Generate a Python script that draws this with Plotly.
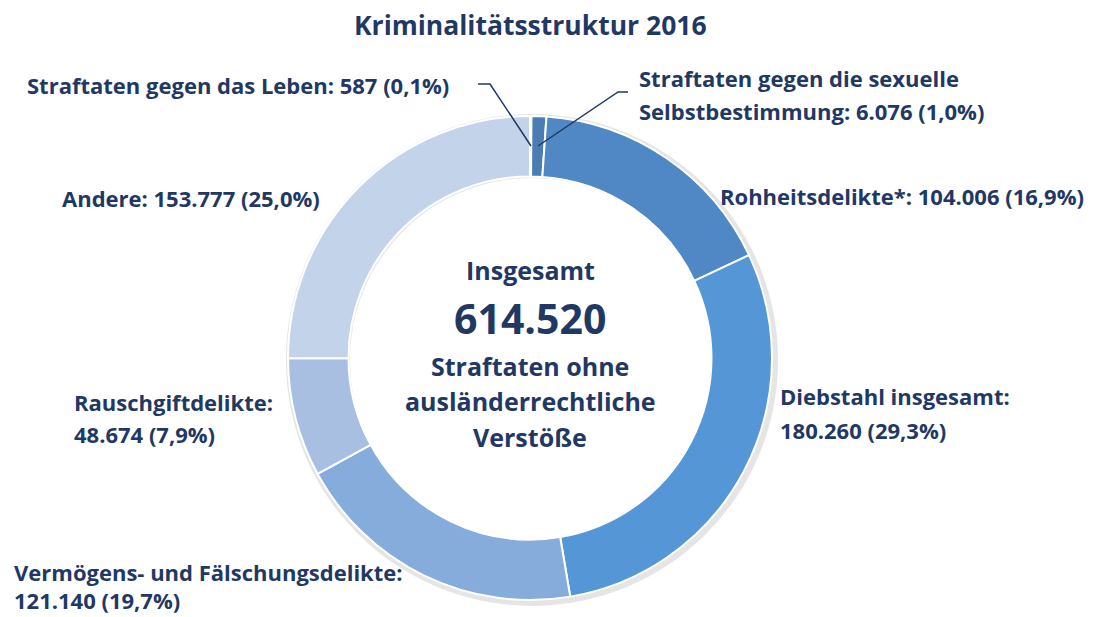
import plotly.graph_objects as go

W, H = 1102, 617

categories = [
    "Straftaten gegen das Leben",
    "Straftaten gegen die sexuelle Selbstbestimmung",
    "Rohheitsdelikte*",
    "Diebstahl insgesamt",
    "Vermögens- und Fälschungsdelikte",
    "Rauschgiftdelikte",
    "Andere",
]
values = [587, 6076, 104006, 180260, 121140, 48674, 153777]
colors = ["#5a8cc4", "#4a7db4", "#4f88c5", "#5597d6", "#86acdc", "#a8bfe1", "#c3d4ea"]

total = sum(values)
NAVY = "#1f3864"
FONT = "Open Sans"


def fmt_num(v):
    return f"{v:,}".replace(",", ".")


def fmt_pct(v):
    return f"{v / total * 100:.1f}".replace(".", ",") + "%"


def px(x):
    return x / W


def py(y):
    return 1 - y / H


# donut geometry (page pixels)
cx, cy, r = 530, 358, 242

fig = go.Figure()
# soft shadow
fig.add_trace(go.Pie(
    values=[1], hole=0.74, sort=False, textinfo="none", hoverinfo="skip",
    marker=dict(colors=["rgba(0,0,0,0.10)"], line=dict(width=0)),
    domain=dict(x=[px(cx - r - 2), px(cx + r + 6)], y=[py(cy + r + 6), py(cy - r - 2)]),
    showlegend=False,
))
fig.add_trace(go.Pie(
    labels=categories, values=values, hole=0.75, sort=False, direction="clockwise",
    rotation=0, textinfo="none", hoverinfo="label+value+percent",
    marker=dict(colors=colors, line=dict(color="white", width=2)),
    domain=dict(x=[px(cx - r), px(cx + r)], y=[py(cy + r), py(cy - r)]),
    showlegend=False,
))

ann = []


def add_text(x, y, text, size=22, xanchor="left"):
    ann.append(dict(x=px(x), y=py(y), xref="paper", yref="paper", text=text,
                    showarrow=False, xanchor=xanchor, yanchor="middle", align="left",
                    font=dict(family=FONT, size=size, color=NAVY, weight="bold")))


lab = [f"{c}: {fmt_num(v)} ({fmt_pct(v)})" for c, v in zip(categories, values)]

# title
add_text(cx, 25, "Kriminalitätsstruktur 2016", size=26.5, xanchor="center")
# labels
add_text(25, 85, lab[0])
add_text(637, 78, "Straftaten gegen die sexuelle")
add_text(637, 111, f"Selbstbestimmung: {fmt_num(values[1])} ({fmt_pct(values[1])})")
add_text(718, 196, lab[2])
add_text(778, 396, categories[3] + ":")
add_text(778, 430, f"{fmt_num(values[3])} ({fmt_pct(values[3])})")
add_text(12, 572, categories[4] + ":")
add_text(12, 600, f"{fmt_num(values[4])} ({fmt_pct(values[4])})")
add_text(72, 402, categories[5] + ":")
add_text(72, 434, f"{fmt_num(values[5])} ({fmt_pct(values[5])})")
add_text(60, 198, lab[6])

# center text
add_text(cx, 270, "Insgesamt", size=25, xanchor="center")
add_text(cx, 318, fmt_num(total), size=41, xanchor="center")
add_text(cx, 366, "Straftaten ohne", size=25, xanchor="center")
add_text(cx, 401, "ausländerrechtliche", size=25, xanchor="center")
add_text(cx, 437, "Verstöße", size=25, xanchor="center")

shapes = [
    dict(type="path", xref="paper", yref="paper",
         path=f"M {px(478)} {py(84)} L {px(490)} {py(84)} L {px(531)} {py(146)}",
         line=dict(color=NAVY, width=1.5)),
    dict(type="path", xref="paper", yref="paper",
         path=f"M {px(628)} {py(92)} L {px(618)} {py(92)} L {px(538)} {py(146)}",
         line=dict(color=NAVY, width=1.5)),
]

fig.update_layout(
    width=W, height=H, margin=dict(l=0, r=0, t=0, b=0),
    paper_bgcolor="white", plot_bgcolor="white",
    annotations=ann, shapes=shapes,
)

fig.write_html("out.html", config={"displayModeBar": False},
               post_script="document.body.style.margin='0';document.body.style.overflow='hidden';")
